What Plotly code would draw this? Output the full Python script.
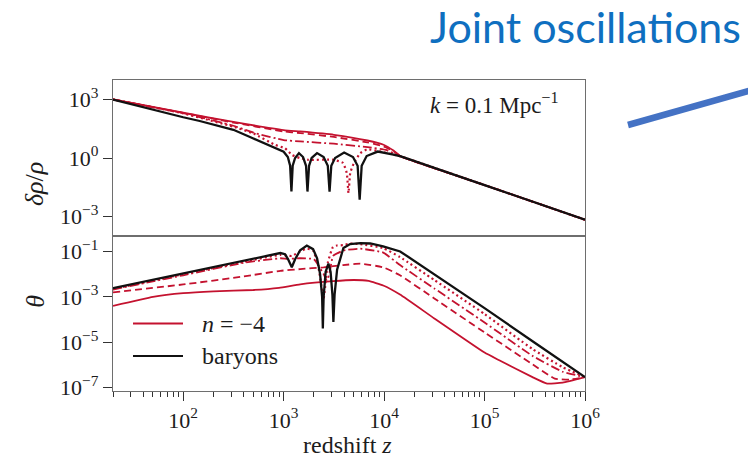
import plotly.graph_objects as go

RED = "#c4122f"
BLACK = "#111111"
FONT = "Liberation Serif"

# ---------------- top panel: density contrast delta rho / rho ----------------
z_top_bar = [20, 50, 100, 146, 220, 316, 500, 700, 1000, 1100, 1160, 1195, 1230, 1300,
             1420, 1560, 1670, 1726, 1790, 1900, 2150, 2500, 2750, 2864, 2980,
             3250, 4000, 4900, 5450, 5710, 5980, 6700, 8650, 12400, 14700, 1e5, 1e6]
d_bar = [1.0e3, 2.95e2, 1.23e2, 7.9e1, 4.6e1, 2.8e1, 1.0e1, 4.6, 2.1, 1.12, 0.40, 0.019,
         0.40, 1.0, 1.78, 1.12, 0.40, 0.019, 0.40, 1.0, 1.78, 1.12, 0.40, 0.019,
         0.40, 1.0, 1.9, 1.12, 0.40, 0.0072, 0.40, 1.26, 2.14, 1.48, 1.2, 0.041, 6.8e-4]

z_top_solid = [20, 100, 316, 1000, 1459, 3160, 6830, 9870, 12400, 14700, 1e5, 1e6]
d_solid = [1.0e3, 2.1e2, 7.1e1, 2.7e1, 2.3e1, 1.55e1, 7.9, 4.8, 2.4, 1.2, 0.041, 6.8e-4]

z_top_dash = [20, 100, 316, 1000, 1459, 3160, 6830, 9870, 12400, 14700, 1e5, 1e6]
d_dash = [1.0e3, 2.05e2, 6.6e1, 2.3e1, 1.9e1, 1.2e1, 6.3, 4.0, 2.2, 1.2, 0.041, 6.8e-4]

z_top_dashdot = [20, 100, 316, 500, 1000, 1459, 3160, 6830, 10400, 14700, 1e5, 1e6]
d_dashdot = [1.0e3, 2.0e2, 4.5e1, 2.0e1, 8.3, 7.1, 5.4, 3.6, 2.6, 1.2, 0.041, 6.8e-4]

z_top_dot = [20, 100, 316, 500, 822, 1030, 1210, 1450, 1750, 3130, 3900, 4250, 4420,
             4600, 5000, 5800, 6800, 8650, 12400, 14700, 1e5, 1e6]
d_dot = [1.0e3, 1.95e2, 4.0e1, 1.8e1, 4.7, 3.16, 1.45, 1.0, 0.81, 0.81, 0.55, 0.17,
         0.016, 0.17, 0.55, 1.78, 2.8, 2.3, 1.5, 1.2, 0.041, 6.8e-4]

# ---------------- bottom panel: velocity divergence theta ----------------
z_bot_bar = [20, 100, 400, 927, 1033, 1107, 1205, 1300, 1459, 1700, 1963, 2152, 2305,
             2415, 2455, 2500, 2618, 2790, 2934, 3057, 3127, 3215, 3404, 3935, 4590,
             5780, 7270, 9780, 14450, 31600, 1e5, 3.16e5, 1e6]
t_bar = [2.4e-3, 1.07e-2, 3.9e-2, 8.5e-2, 7.6e-2, 4.5e-2, 2.0e-2, 4.5e-2, 1.12e-1,
         1.82e-1, 1.26e-1, 5.0e-2, 1.0e-2, 1.0e-3, 4.0e-5, 1.0e-3, 1.26e-2, 2.9e-2,
         1.26e-2, 1.26e-3, 7.8e-5, 1.26e-3, 1.58e-2, 1.41e-1, 2.1e-1, 2.34e-1, 2.24e-1,
         1.66e-1, 1.0e-1, 1.0e-2, 3.16e-4, 9.5e-6, 2.9e-7]

z_bot_solid = [20, 50, 100, 200, 500, 900, 1459, 3100, 5000, 7000, 9800, 14400, 31600,
               1e5, 1.4e5, 3.0e5, 4.2e5, 6e5, 1e6]
t_solid = [4.0e-4, 1.0e-3, 1.45e-3, 1.74e-3, 2.0e-3, 2.5e-3, 3.55e-3, 4.9e-3, 5.5e-3,
           5.0e-3, 3.16e-3, 1.26e-3, 1.12e-4, 3.5e-6, 1.6e-6, 2.9e-7, 1.5e-7, 1.66e-7, 2.9e-7]

z_bot_dash = [20, 100, 400, 927, 1459, 2500, 3900, 5800, 9800, 14400, 31600, 1e5, 3e5,
              5e5, 7e5, 1e6]
t_dash = [1.58e-3, 3.5e-3, 7.9e-3, 1.4e-2, 1.66e-2, 2.0e-2, 2.5e-2, 2.9e-2, 2.0e-2,
          8.9e-3, 8.5e-4, 2.7e-5, 1.07e-6, 2.5e-7, 2.24e-7, 2.9e-7]

z_bot_dashdot = [20, 100, 400, 927, 1100, 1459, 2000, 2500, 2700, 2900, 3100, 3935,
                 5800, 9800, 14400, 31600, 1e5, 3e5, 6e5, 1e6]
t_dashdot = [2.1e-3, 8.9e-3, 3.16e-2, 5.0e-2, 4.7e-2, 5.0e-2, 4.5e-2, 1.0e-2, 5.0e-3,
             1.5e-2, 6.3e-2, 1.1e-1, 1.32e-1, 8.9e-2, 2.5e-2, 2.34e-3, 7.4e-5, 2.5e-6,
             5.0e-7, 2.9e-7]

z_bot_dot = [20, 100, 400, 927, 1205, 1459, 1700, 1963, 2200, 2500, 2750, 3100, 3400,
             3935, 4590, 5780, 9780, 14400, 31600, 1e5, 3e5, 6e5, 1e6]
t_dot = [2.2e-3, 1.0e-2, 3.5e-2, 7.1e-2, 6.3e-2, 1.0e-1, 1.32e-1, 1.1e-1, 2.5e-2,
         8.7e-4, 3.2e-2, 1.58e-1, 1.82e-1, 1.9e-1, 2.2e-1, 2.1e-1, 1.41e-1, 5.6e-2,
         5.5e-3, 1.74e-4, 5.0e-6, 7.9e-7, 2.9e-7]

x_tick_vals = [1e2, 1e3, 1e4, 1e5, 1e6]
x_tick_text = ["10<sup>2</sup>", "10<sup>3</sup>", "10<sup>4</sup>", "10<sup>5</sup>", "10<sup>6</sup>"]
y_top_vals = [1e3, 1e0, 1e-3]
y_top_text = ["10<sup>3</sup>", "10<sup>0</sup>", "10<sup>−3</sup>"]
y_bot_vals = [1e-1, 1e-3, 1e-5, 1e-7]
y_bot_text = ["10<sup>−1</sup>", "10<sup>−3</sup>", "10<sup>−5</sup>", "10<sup>−7</sup>"]
x_minor = [m * 10 ** e for e in range(1, 6) for m in range(2, 10) if m * 10 ** e >= 20]

red_styles = [("solid", 1.8), ("7px,4px", 1.8), ("9px,3px,2px,3px", 1.8), ("2px,3px", 2.2)]

fig = go.Figure()

top_sets = [(z_top_solid, d_solid), (z_top_dash, d_dash),
            (z_top_dashdot, d_dashdot), (z_top_dot, d_dot)]
bot_sets = [(z_bot_solid, t_solid), (z_bot_dash, t_dash),
            (z_bot_dashdot, t_dashdot), (z_bot_dot, t_dot)]

for (zz, vv), (dash, w) in zip(top_sets, red_styles):
    fig.add_trace(go.Scatter(x=zz, y=vv, mode="lines", xaxis="x2", yaxis="y2",
                             line=dict(color=RED, width=w, dash=dash, shape="spline",
                                       smoothing=0.4), showlegend=False))
fig.add_trace(go.Scatter(x=z_top_bar, y=d_bar, mode="lines", xaxis="x2", yaxis="y2",
                         line=dict(color=BLACK, width=2.3), showlegend=False))

for (zz, vv), (dash, w) in zip(bot_sets, red_styles):
    fig.add_trace(go.Scatter(x=zz, y=vv, mode="lines", xaxis="x", yaxis="y",
                             line=dict(color=RED, width=w, dash=dash, shape="spline",
                                       smoothing=0.4), showlegend=False))
fig.add_trace(go.Scatter(x=z_bot_bar, y=t_bar, mode="lines", xaxis="x", yaxis="y",
                         line=dict(color=BLACK, width=2.3), showlegend=False))

split = 155 / 311
axis_line = dict(showline=True, linecolor="#6e6e6e", linewidth=1.4, mirror=True,
                 showgrid=False, zeroline=False, automargin=False)
tick_font = dict(family=FONT, size=22, color="#1c1c1c")

fig.update_layout(
    width=748, height=457,
    margin=dict(l=113, r=163, t=80, b=66, autoexpand=False),
    paper_bgcolor="white", plot_bgcolor="white",
    font=dict(family=FONT, size=22, color="#1c1c1c"),
    xaxis=dict(type="log", range=[1.30103, 6], anchor="y", domain=[0, 1],
               tickvals=x_tick_vals, ticktext=x_tick_text, ticks="outside",
               ticklen=9, tickwidth=1, tickcolor="#333333", tickfont=tick_font,
               minor=dict(ticks="outside", ticklen=5, tickwidth=1, tickcolor="#333333",
                          tickvals=x_minor, showgrid=False),
               **axis_line),
    xaxis2=dict(type="log", range=[1.30103, 6], anchor="y2", matches="x",
                showticklabels=False, ticks="", **axis_line),
    yaxis=dict(type="log", range=[-7.15, -0.32], domain=[0, split], anchor="x",
               tickvals=y_bot_vals, ticktext=y_bot_text, ticks="outside", ticklen=9,
               tickwidth=1, tickcolor="#333333", tickfont=tick_font, **axis_line),
    yaxis2=dict(type="log", range=[-4, 4], domain=[split, 1], anchor="x2",
                tickvals=y_top_vals, ticktext=y_top_text, ticks="outside", ticklen=9,
                tickwidth=1, tickcolor="#333333", tickfont=tick_font, **axis_line),
)

# axis titles
fig.add_annotation(text="redshift <i>z</i>", x=0.496, y=-0.174, xref="paper", yref="paper",
                   xanchor="center", yanchor="middle", showarrow=False,
                   font=dict(family=FONT, size=24))
fig.add_annotation(text="<i>δρ</i>/<i>ρ</i>", x=-0.200, y=0.743, xref="paper", yref="paper",
                   textangle=-90, showarrow=False, font=dict(family=FONT, size=26))
fig.add_annotation(text="<i>θ</i>", x=-0.198, y=0.26, xref="paper", yref="paper",
                   textangle=-90, showarrow=False, font=dict(family=FONT, size=26))

# panel label
fig.add_annotation(text="<i>k</i> = 0.1 Mpc<sup>−1</sup>", x=0.947, y=0.926,
                   xref="paper", yref="paper", xanchor="right", yanchor="middle",
                   showarrow=False, font=dict(family=FONT, size=23))

# legend in the lower panel
leg_x0, leg_x1, leg_tx = 0.0424, 0.1483, 0.1843
for yy, col, label in [(0.217, RED, "<i>n</i> = −4"), (0.1125, BLACK, "baryons")]:
    fig.add_shape(type="line", xref="paper", yref="paper", x0=leg_x0, x1=leg_x1,
                  y0=yy, y1=yy, line=dict(color=col, width=2.2))
    fig.add_annotation(text=label, x=leg_tx, y=yy, xref="paper", yref="paper",
                       xanchor="left", yanchor="middle", showarrow=False,
                       font=dict(family=FONT, size=24))

# slide heading and pointer line
fig.add_annotation(text="Joint oscillations", x=1.3347, y=1.172, xref="paper", yref="paper",
                   xanchor="right", yanchor="middle", showarrow=False,
                   font=dict(family="Lato", size=43, color="#0f6fc0"))
fig.add_shape(type="line", xref="paper", yref="paper", x0=1.0911, y0=0.8553,
              x1=1.3708, y1=0.9749, line=dict(color="#4472c4", width=6.5))

fig.write_html("out.html")
